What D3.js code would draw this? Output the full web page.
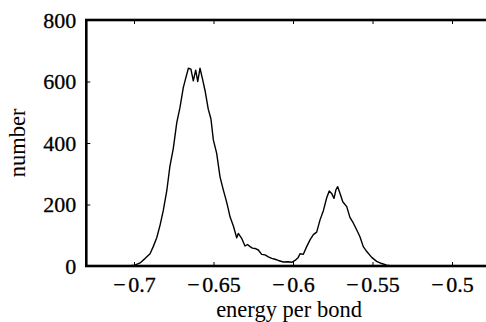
<!DOCTYPE html>
<html>
<head>
<meta charset="utf-8">
<script src="https://cdn.jsdelivr.net/npm/d3@7"></script>
<style>
  html, body { margin: 0; padding: 0; background: #fff; }
  svg { display: block; }
  svg text { font-family: "Liberation Serif", "DejaVu Serif", serif !important; fill: #000; }
</style>
</head>
<body>
<svg id="chart" width="486" height="322"></svg>
<script>
// ---- data ----
const energy = [
  -0.7300, -0.7150, -0.7057, -0.7025, -0.6994, -0.6962, -0.6931, -0.6899, -0.6879, -0.6857,
  -0.6836, -0.6816, -0.6794, -0.6774, -0.6753, -0.6731, -0.6711, -0.6690, -0.6675, -0.6658,
  -0.6642, -0.6627, -0.6612, -0.6599, -0.6585, -0.6570, -0.6553, -0.6533, -0.6516, -0.6501,
  -0.6480, -0.6459, -0.6438, -0.6421, -0.6409, -0.6396, -0.6375, -0.6354, -0.6344, -0.6323,
  -0.6302, -0.6286, -0.6270, -0.6255, -0.6239, -0.6218, -0.6197, -0.6176, -0.6155, -0.6134,
  -0.6113, -0.6092, -0.6061, -0.6030, -0.6008, -0.5987, -0.5967, -0.5956, -0.5935, -0.5914,
  -0.5893, -0.5872, -0.5851, -0.5830, -0.5809, -0.5788, -0.5772, -0.5757, -0.5742, -0.5730,
  -0.5719, -0.5704, -0.5687, -0.5662, -0.5642, -0.5621, -0.5599, -0.5579, -0.5558, -0.5536,
  -0.5505, -0.5474, -0.5442, -0.5411, -0.5377, -0.5200, -0.5000, -0.4750
];
const counts = [
  0, 0, 0, 1, 3, 10, 24, 40, 63, 92,
  133, 180, 244, 325, 382, 466, 515, 580, 610, 643,
  640, 602, 637, 600, 643, 610, 570, 510, 478, 410,
  366, 290, 247, 215, 190, 160, 130, 92, 106, 90,
  65, 70, 63, 58, 57, 52, 38, 36, 30, 25,
  22, 18, 13, 14, 12, 18, 28, 40, 38, 63,
  85, 102, 110, 150, 180, 222, 244, 236, 220, 248,
  258, 236, 209, 193, 158, 140, 117, 95, 63, 47,
  28, 15, 8, 3, 0, 0, 0, 0
];
const xTicks = [-0.7, -0.65, -0.6, -0.55, -0.5];
const yTicks = [0, 200, 400, 600, 800];
const xLabel = "energy per bond";
const yLabel = "number";

// ---- layout ----
const svg = d3.select("#chart");
const x = d3.scaleLinear().domain([-0.73, -0.475]).range([86.3, 491.75]);
const y = d3.scaleLinear().domain([0, 800]).range([266, 20]);
const FS = 22;
const LFS = 22.5;
const FONT = "Liberation Serif";

// curve
const pts = energy.map((e, i) => [e, counts[i]]);
svg.append("path")
  .datum(pts)
  .attr("fill", "none")
  .attr("stroke", "#000")
  .attr("stroke-width", 1.4)
  .attr("stroke-linejoin", "round")
  .attr("d", d3.line().x(d => x(d[0])).y(d => y(d[1])));

// axes with inward ticks
const xa = x.range()[0], xb = x.range()[1];
const ya = y.range()[0], yb = y.range()[1];

const gBottom = svg.append("g").attr("transform", `translate(0,${ya})`)
  .call(d3.axisBottom(x).tickValues(xTicks).tickSizeInner(-4).tickSizeOuter(0).tickPadding(0)
    .tickFormat(d => d3.format(".2~f")(Math.abs(d))));
gBottom.attr("font-family", FONT);
gBottom.select(".domain").remove();
gBottom.selectAll(".tick line").attr("stroke", "#000").attr("stroke-width", 1);
gBottom.selectAll(".tick text").each(function() {
  const t = d3.select(this);
  const s = t.text();
  t.text(null).attr("y", 26).attr("dy", 0).attr("font-size", FS)
    .attr("stroke", "#000").attr("stroke-width", 0.3);
  t.append("tspan").text("\u2212");
  t.append("tspan").attr("dx", 2.5).text(s);
});

const gTop = svg.append("g").attr("transform", `translate(0,${yb})`)
  .call(d3.axisTop(x).tickValues(xTicks).tickSizeInner(-4).tickSizeOuter(0).tickFormat(""));
gTop.select(".domain").remove();

const gLeft = svg.append("g").attr("transform", `translate(${xa},0)`)
  .call(d3.axisLeft(y).tickValues(yTicks).tickSizeInner(-4).tickSizeOuter(0).tickPadding(10)
    .tickFormat(d3.format("d")));
gLeft.attr("font-family", FONT);
gLeft.select(".domain").remove();
gLeft.selectAll(".tick text").attr("font-size", FS).attr("dy", 7)
  .attr("stroke", "#000").attr("stroke-width", 0.3);

const gRight = svg.append("g").attr("transform", `translate(${xb},0)`)
  .call(d3.axisRight(y).tickValues(yTicks).tickSizeInner(-4).tickSizeOuter(0).tickFormat(""));
gRight.select(".domain").remove();

// frame
svg.append("rect")
  .attr("x", xa).attr("y", yb)
  .attr("width", xb - xa).attr("height", ya - yb)
  .attr("fill", "none").attr("stroke", "#000").attr("stroke-width", 2.6);

// axis labels
svg.append("text")
  .attr("x", (xa + xb) / 2).attr("y", 317)
  .attr("text-anchor", "middle").attr("font-size", LFS).attr("font-family", FONT)
  .text(xLabel);
svg.append("text")
  .attr("transform", `translate(25,${(ya + yb) / 2}) rotate(-90)`)
  .attr("text-anchor", "middle").attr("font-size", LFS).attr("font-family", FONT)
  .text(yLabel);
</script>
</body>
</html>
